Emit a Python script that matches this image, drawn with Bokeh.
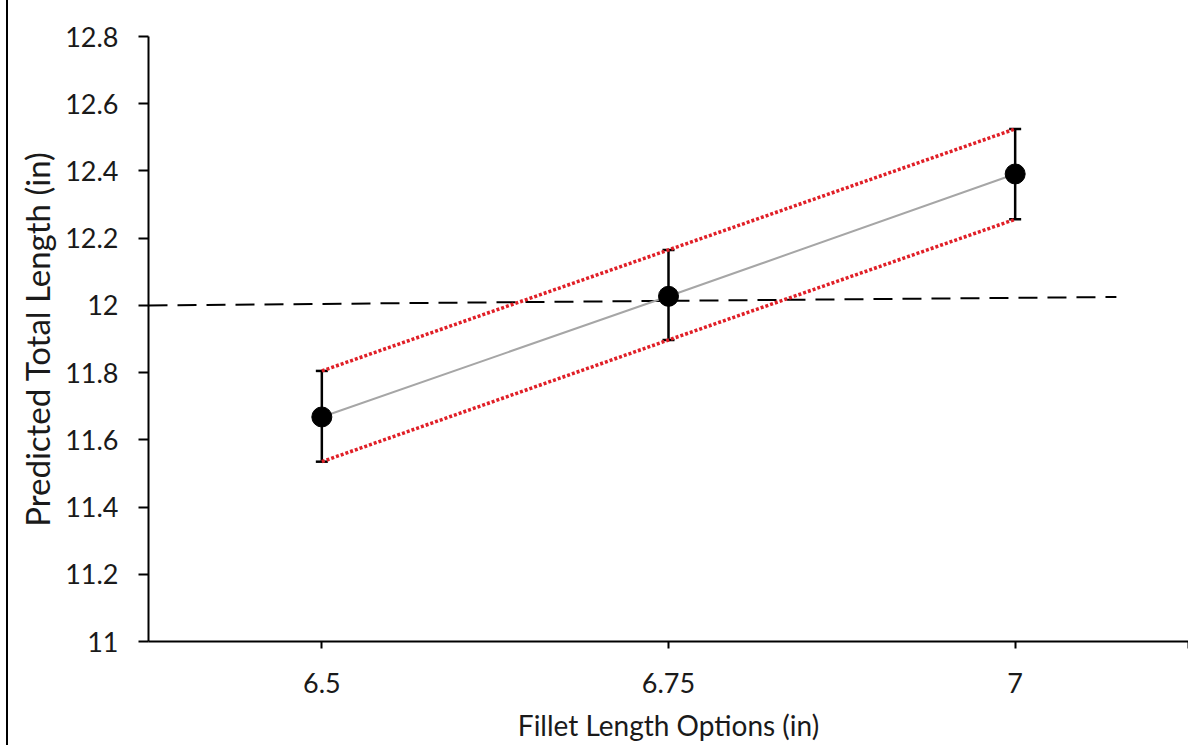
from bokeh.plotting import figure
from bokeh.models import Range1d, FixedTicker, Whisker, ColumnDataSource, TeeHead
from bokeh.embed import file_html
from bokeh.resources import INLINE

# ---- data ----
fillet_options = [6.5, 6.75, 7.0]
predicted_mean = [11.668, 12.027, 12.391]
predicted_upper = [11.805, 12.165, 12.525]
predicted_lower = [11.535, 11.897, 12.256]
target_x = [6.375, 7.073]
target_y = [12.0, 12.025]
x_tick_values = [6.5, 6.75, 7.0, 7.125]
x_tick_labels = ["6.5", "6.75", "7", ""]
y_tick_values = [11.0, 11.2, 11.4, 11.6, 11.8, 12.0, 12.2, 12.4, 12.6, 12.8]
y_tick_labels = ["11", "11.2", "11.4", "11.6", "11.8", "12", "12.2", "12.4", "12.6", "12.8"]

FONT = "Lato"

src = ColumnDataSource(dict(x=fillet_options, y=predicted_mean,
                            up=predicted_upper, lo=predicted_lower))

p = figure(width=1182, height=745, output_backend="svg", toolbar_location=None,
           x_range=Range1d(6.375, 7.125), y_range=Range1d(11.0, 12.8),
           min_border_left=140, min_border_right=2, min_border_top=36, min_border_bottom=104,
           styles={"margin-left": "6px", "border-left": "2px solid black"})
p.outline_line_color = None
p.grid.visible = False
p.background_fill_color = "white"

# target dashed line
p.line(target_x, target_y, line_color="black", line_width=2, line_dash="19 10")

# confidence dotted lines
p.line("x", "up", source=src, line_color="#e01f27", line_width=3.5, line_dash="3 2")
p.line("x", "lo", source=src, line_color="#e01f27", line_width=3.5, line_dash="3 2")

# trend line
p.line("x", "y", source=src, line_color="#a6a6a6", line_width=2)

# error bars
w = Whisker(base="x", upper="up", lower="lo", source=src, dimension="height",
            line_color="black", line_width=2.5,
            upper_head=TeeHead(size=12, line_width=2.5, line_color="black"),
            lower_head=TeeHead(size=12, line_width=2.5, line_color="black"))
p.add_layout(w)

p.scatter("x", "y", source=src, size=20, fill_color="black", line_color="black")

# axes
p.xaxis.ticker = FixedTicker(ticks=x_tick_values)
p.xaxis.major_label_overrides = {v: l for v, l in zip(x_tick_values, x_tick_labels)}
p.yaxis.ticker = FixedTicker(ticks=y_tick_values)
p.yaxis.major_label_overrides = {v: l for v, l in zip(y_tick_values, y_tick_labels)}

for ax in (p.xaxis, p.yaxis):
    ax.axis_line_width = 2
    ax.axis_line_color = "black"
    ax.major_tick_line_width = 2
    ax.major_tick_line_color = "black"
    ax.major_tick_in = 0
    ax.minor_tick_line_color = None
    ax.major_label_text_font = FONT
    ax.major_label_text_font_size = "27px"
    ax.major_label_text_color = "#1a1a1a"
    ax.axis_label_text_font = FONT
    ax.axis_label_text_font_style = "normal"
    ax.axis_label_text_color = "#1a1a1a"

p.xaxis.axis_label_text_font_size = "28px"
p.yaxis.axis_label_text_font_size = "33px"
p.xaxis.major_tick_out = 7
p.yaxis.major_tick_out = 10
p.xaxis.major_label_standoff = 24
p.yaxis.major_label_standoff = 20
p.xaxis.axis_label = "Fillet Length Options (in)"
p.yaxis.axis_label = "Predicted Total Length (in)"
p.xaxis.axis_label_standoff = 12
p.yaxis.axis_label_standoff = 5

open("out.html", "w").write(file_html(p, INLINE))
